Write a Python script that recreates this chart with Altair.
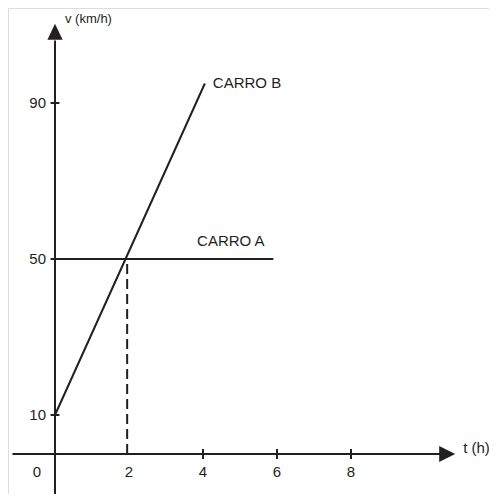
import altair as alt
import pandas as pd

# ---- data ----
carro_a_t = [0, 5.9]
carro_a_v = [50, 50]
carro_b_t = [0, 4.05]
carro_b_v = [10, 95]
dash_t = [1.95, 1.95]
dash_v = [0, 50]
x_tick_vals = [4, 6, 8]
x_label_vals = [2, 4, 6, 8]
y_tick_vals = [10, 50, 90]
x_axis_span = [-1.15, 10.5]
y_axis_span = [-13, 106]
up_arrow = (0, 108.3)
right_arrow = (10.6, 0)
label_a = (3.84, 50)

FONT = "Liberation Sans"
INK = "#231f20"

xs = alt.Scale(domain=[0, 10], range=[47, 417], nice=False, zero=False)
ys = alt.Scale(domain=[0, 100], range=[446, 56], nice=False, zero=False)

def X(f="t"):
    return alt.X(f"{f}:Q", scale=xs, axis=None)

def Y(f="v"):
    return alt.Y(f"{f}:Q", scale=ys, axis=None)

# axes lines
axes_df = pd.DataFrame({
    "t": [x_axis_span[0], 0], "t2": [x_axis_span[1], 0],
    "v": [0, y_axis_span[0]], "v2": [0, y_axis_span[1]],
})
axes = alt.Chart(axes_df).mark_rule(color=INK, strokeWidth=2).encode(
    x=X(), x2="t2:Q", y=Y(), y2="v2:Q")

up_df = pd.DataFrame({"t": [up_arrow[0]], "v": [up_arrow[1]]})
up = alt.Chart(up_df).mark_point(shape="M0,-1L0.95,1L-0.95,1Z", filled=True,
                                 size=256, color=INK, opacity=1).encode(x=X(), y=Y())
right_df = pd.DataFrame({"t": [right_arrow[0]], "v": [right_arrow[1]]})
right = alt.Chart(right_df).mark_point(shape="M1,0L-1,-1L-1,1Z", filled=True,
                                       size=256, color=INK, opacity=1).encode(x=X(), y=Y())

# ticks
xt_df = pd.DataFrame({"t": x_tick_vals, "v": [-1.3] * 3, "v2": [1.3] * 3})
xt = alt.Chart(xt_df).mark_rule(color=INK, strokeWidth=2).encode(x=X(), y=Y(), y2="v2:Q")
yt_df = pd.DataFrame({"v": y_tick_vals, "t": [-0.12] * 3, "t2": [0.12] * 3})
yt = alt.Chart(yt_df).mark_rule(color=INK, strokeWidth=2).encode(x=X(), x2="t2:Q", y=Y())

# data lines
a_df = pd.DataFrame({"t": carro_a_t, "v": carro_a_v})
b_df = pd.DataFrame({"t": carro_b_t, "v": carro_b_v})
d_df = pd.DataFrame({"t": dash_t, "v": dash_v})
line_a = alt.Chart(a_df).mark_line(color=INK, strokeWidth=2).encode(x=X(), y=Y())
line_b = alt.Chart(b_df).mark_line(color=INK, strokeWidth=2).encode(x=X(), y=Y())
line_d = alt.Chart(d_df).mark_line(color=INK, strokeWidth=2, strokeDash=[10, 5]).encode(x=X(), y=Y())

# labels
xl_df = pd.DataFrame({"t": x_label_vals, "v": [0] * 4, "s": [str(v) for v in x_label_vals]})
xl = alt.Chart(xl_df).mark_text(font=FONT, fontSize=15, color=INK, dy=18, baseline="middle",
                                align="center").encode(x=X(), y=Y(), text="s:N")
zero_df = pd.DataFrame({"t": [0], "v": [0], "s": ["0"]})
zl = alt.Chart(zero_df).mark_text(font=FONT, fontSize=15, color=INK, dy=18, dx=-18,
                                  baseline="middle", align="center").encode(x=X(), y=Y(), text="s:N")
yl_df = pd.DataFrame({"t": [0] * 3, "v": y_tick_vals, "s": [str(v) for v in y_tick_vals]})
yl = alt.Chart(yl_df).mark_text(font=FONT, fontSize=15, color=INK, dx=-9, baseline="middle",
                                align="right").encode(x=X(), y=Y(), text="s:N")

vl_df = pd.DataFrame({"t": [0], "v": [up_arrow[1]], "s": ["v (km/h)"]})
vl = alt.Chart(vl_df).mark_text(font=FONT, fontSize=13, color=INK, dx=10, dy=-13,
                                baseline="middle", align="left").encode(x=X(), y=Y(), text="s:N")
tl_df = pd.DataFrame({"t": [right_arrow[0]], "v": [0], "s": ["t (h)"]})
tl = alt.Chart(tl_df).mark_text(font=FONT, fontSize=15, color=INK, dx=16, dy=-6,
                                baseline="middle", align="left").encode(x=X(), y=Y(), text="s:N")

lb_df = pd.DataFrame({"t": [carro_b_t[1]], "v": [carro_b_v[1]], "s": ["CARRO B"]})
lb = alt.Chart(lb_df).mark_text(font=FONT, fontSize=15, color=INK, dx=8, dy=-1,
                                baseline="middle", align="left").encode(x=X(), y=Y(), text="s:N")
la_df = pd.DataFrame({"t": [label_a[0]], "v": [label_a[1]], "s": ["CARRO A"]})
la = alt.Chart(la_df).mark_text(font=FONT, fontSize=15, color=INK, dy=-18,
                                baseline="middle", align="left").encode(x=X(), y=Y(), text="s:N")

chart = alt.layer(axes, up, right, xt, yt, line_d, line_a, line_b, xl, zl, yl, vl, tl, lb, la).properties(
    width=481, height=486, padding=0,
    autosize=alt.AutoSizeParams(type="none"),
).configure_view(stroke=None).configure(background="white")

chart.save("out.html", embed_options={"renderer": "svg", "actions": False})
